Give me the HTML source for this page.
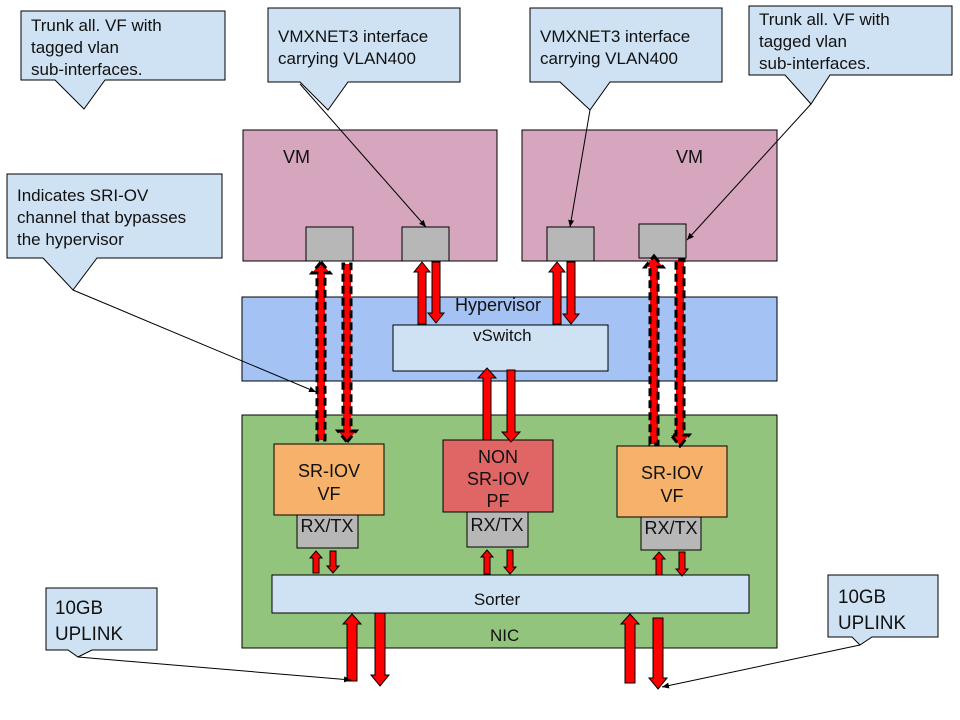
<!DOCTYPE html>
<html><head><meta charset="utf-8"><style>
html,body{margin:0;padding:0;background:#fff;}
svg{display:block;}
text{font-family:"Liberation Sans",sans-serif;fill:#111;}
</style></head><body>
<svg width="960" height="720" viewBox="0 0 960 720" xmlns="http://www.w3.org/2000/svg">
<defs>
<marker id="ah" markerWidth="8" markerHeight="8" refX="7" refY="4" orient="auto" markerUnits="userSpaceOnUse"><path d="M0,1 L7,4 L0,7 Z" fill="#000"/></marker>
</defs>
<rect width="960" height="720" fill="#fff"/>

<g fill="#cfe2f3" stroke="#000" stroke-width="1">
<path d="M21,11 H225 V80 H105 L84,109 L55,80 H21 Z"/>
<path d="M268,8 H460 V82 H348 L328,110 L300,82 H268 Z"/>
<path d="M530,8 H722 V82 H610 L590,110 L560,82 H530 Z"/>
<path d="M749,6 H952 V75 H830 L811,104 L785,75 H749 Z"/>
<path d="M7,174 H222 V258 H97 L73,290 L43,258 H7 Z"/>
<path d="M46,588 H157 V650 H92 L78,657 L68,650 H46 Z"/>
<path d="M828,575 H938 V637 H872 L860,645 L852,637 H828 Z"/>
</g>
<g font-size="17">
<text x="31" y="31">Trunk all. VF with</text>
<text x="31" y="53">tagged vlan</text>
<text x="31" y="75">sub-interfaces.</text>
<text x="278" y="42">VMXNET3 interface</text>
<text x="278" y="64">carrying VLAN400</text>
<text x="540" y="42">VMXNET3 interface</text>
<text x="540" y="64">carrying VLAN400</text>
<text x="759" y="25">Trunk all. VF with</text>
<text x="759" y="47">tagged vlan</text>
<text x="759" y="69">sub-interfaces.</text>
<text x="17" y="201">Indicates SRI-OV</text>
<text x="17" y="223">channel that bypasses</text>
<text x="17" y="245">the hypervisor</text>
<text x="55" y="614" font-size="19" textLength="48" lengthAdjust="spacingAndGlyphs">10GB</text>
<text x="55" y="640" font-size="19" textLength="68" lengthAdjust="spacingAndGlyphs">UPLINK</text>
<text x="838" y="603" font-size="19" textLength="48" lengthAdjust="spacingAndGlyphs">10GB</text>
<text x="838" y="629" font-size="19" textLength="68" lengthAdjust="spacingAndGlyphs">UPLINK</text>
</g>

<g stroke="#000" stroke-width="1">
<rect x="243" y="130" width="254" height="131" fill="#d5a6bd"/>
<rect x="522" y="130" width="255" height="131" fill="#d5a6bd"/>
<rect x="306" y="227" width="47" height="34" fill="#b7b7b7"/>
<rect x="402" y="227" width="47" height="34" fill="#b7b7b7"/>
<rect x="547" y="227" width="47" height="34" fill="#b7b7b7"/>
<rect x="639" y="224" width="47" height="34" fill="#b7b7b7"/>
<rect x="242" y="297" width="535" height="84" fill="#a4c2f4"/>
<rect x="393" y="325" width="215" height="46" fill="#cfe2f3"/>
<rect x="242" y="415" width="535" height="233" fill="#93c47d"/>
<rect x="274" y="444" width="110" height="71" fill="#f6b26b"/>
<rect x="443" y="440" width="110" height="72" fill="#e06666"/>
<rect x="617" y="446" width="110" height="71" fill="#f6b26b"/>
<rect x="297" y="515" width="61" height="33" fill="#b7b7b7"/>
<rect x="467" y="512" width="61" height="35" fill="#b7b7b7"/>
<rect x="641" y="517" width="60" height="33" fill="#b7b7b7"/>
<rect x="272" y="575" width="477" height="38" fill="#cfe2f3"/>
</g>
<g font-size="18">
<text x="283" y="163">VM</text>
<text x="676" y="163">VM</text>
<text x="455" y="311">Hypervisor</text>
<text x="473" y="341" font-size="17">vSwitch</text>
<text x="329" y="477" text-anchor="middle">SR-IOV</text>
<text x="329" y="500" text-anchor="middle">VF</text>
<text x="498" y="463" text-anchor="middle">NON</text>
<text x="498" y="485" text-anchor="middle">SR-IOV</text>
<text x="498" y="507" text-anchor="middle">PF</text>
<text x="672" y="479" text-anchor="middle">SR-IOV</text>
<text x="672" y="502" text-anchor="middle">VF</text>
<text x="327" y="532" text-anchor="middle">RX/TX</text>
<text x="497" y="531" text-anchor="middle">RX/TX</text>
<text x="671" y="534" text-anchor="middle">RX/TX</text>
<text x="497" y="605" text-anchor="middle" font-size="17">Sorter</text>
<text x="490" y="641" font-size="17">NIC</text>
</g>

<g fill="#ff0000" stroke="#000" stroke-width="1">
<polygon points="321,262 330,273 325,273 325,440 317,440 317,273 312,273" stroke-width="3" stroke-dasharray="8,4"/>
<polygon points="347,442 356,431 351,431 351,264 343,264 343,431 338,431" stroke-width="3" stroke-dasharray="8,4"/>
<polygon points="422,262 430,272 426,272 426,324 418,324 418,272 414,272"/>
<polygon points="436,323 444,313 440,313 440,262 432,262 432,313 428,313"/>
<polygon points="557,262 565,272 561,272 561,324 553,324 553,272 549,272"/>
<polygon points="571,324 579,314 575,314 575,262 567,262 567,314 563,314"/>
<polygon points="654,256 663,267 658,267 658,444 650,444 650,267 645,267" stroke-width="3" stroke-dasharray="8,4"/>
<polygon points="680,446 689,435 684,435 684,260 676,260 676,435 671,435" stroke-width="3" stroke-dasharray="8,4"/>
<polygon points="487,368 496,378 491,378 491,440 483,440 483,378 478,378"/>
<polygon points="511,442 520,432 515,432 515,370 507,370 507,432 502,432"/>
<polygon points="316,551 322,558 319,558 319,573 313,573 313,558 310,558"/>
<polygon points="333,573 339,566 336,566 336,551 330,551 330,566 327,566"/>
<polygon points="487,550 493,557 490,557 490,574 484,574 484,557 481,557"/>
<polygon points="510,574 516,567 513,567 513,550 507,550 507,567 504,567"/>
<polygon points="659,552 665,559 662,559 662,575 656,575 656,559 653,559"/>
<polygon points="682,576 688,569 685,569 685,552 679,552 679,569 676,569"/>
<polygon points="352,614 361,624 357,624 357,681 347,681 347,624 343,624"/>
<polygon points="380,686 389,675 385,675 385,613 375,613 375,675 371,675"/>
<polygon points="630,614 639,624 635,624 635,683 625,683 625,624 621,624"/>
<polygon points="658,689 667,678 663,678 663,618 653,618 653,678 649,678"/>
</g>

<g stroke="#000" stroke-width="1" fill="none" marker-end="url(#ah)">
<line x1="300" y1="84" x2="426" y2="227"/>
<line x1="590" y1="110" x2="570" y2="227"/>
<line x1="811" y1="104" x2="687" y2="240"/>
<line x1="73" y1="290" x2="316" y2="392"/>
<line x1="78" y1="657" x2="351" y2="680"/>
<line x1="860" y1="645" x2="662" y2="687"/>
</g>
</svg>
</body></html>
